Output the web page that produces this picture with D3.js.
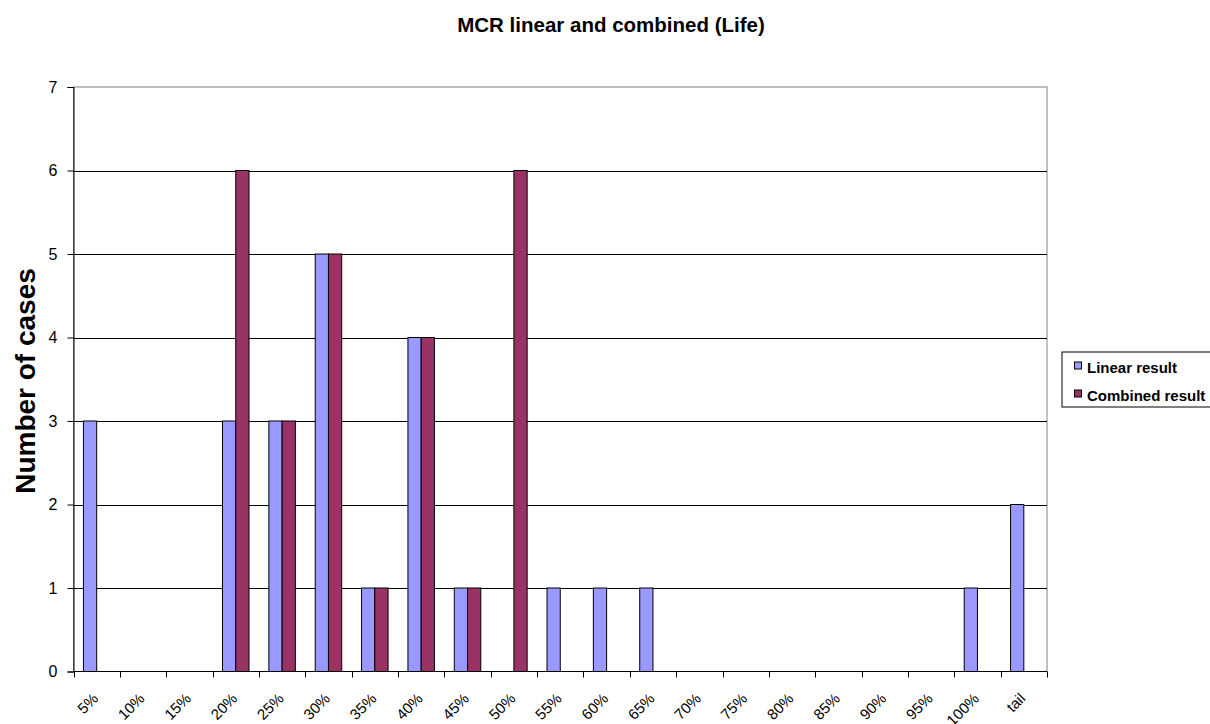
<!DOCTYPE html>
<html><head><meta charset="utf-8">
<script src="https://cdn.jsdelivr.net/npm/d3@7"></script>
<style>body{margin:0;background:#fff;} svg{display:block;font-family:"Liberation Sans",Arial,sans-serif;}</style>
</head><body>
<script>
const categories = ["5%","10%","15%","20%","25%","30%","35%","40%","45%","50%","55%","60%","65%","70%","75%","80%","85%","90%","95%","100%","tail"];
const linearResult   = [3,0,0,3,3,5,1,4,1,0,1,1,1,0,0,0,0,0,0,1,2];
const combinedResult = [0,0,0,6,3,5,1,4,1,6,0,0,0,0,0,0,0,0,0,0,0];
const seriesNames = ["Linear result","Combined result"];
const seriesColors = ["#9999FF","#993366"];
const yTicks = [0,1,2,3,4,5,6,7];

const W=1210,H=724;
const m={left:73.5,right:1047,top:87,bottom:671.5};
const svg=d3.select("body").append("svg").attr("width",W).attr("height",H);

const x=d3.scaleBand().domain(categories).range([m.left,m.right]).paddingInner(0).paddingOuter(0);
const y=d3.scaleLinear().domain([0,7]).range([m.bottom,m.top]);
const bw=x.bandwidth()/3.5;
const gap=bw*0.75;

// plot border
svg.append("rect").attr("x",m.left).attr("y",m.top).attr("width",m.right-m.left).attr("height",m.bottom-m.top)
  .attr("fill","none").attr("stroke","#808080").attr("stroke-width",1);

// gridlines
svg.append("g").selectAll("line").data(yTicks.filter(d=>d>0&&d<7)).join("line")
  .attr("x1",m.left).attr("x2",m.right).attr("y1",d=>Math.round(y(d))+0.5).attr("y2",d=>Math.round(y(d))+0.5)
  .attr("stroke","#000").attr("stroke-width",1);

// bars
const series=[linearResult,combinedResult];
series.forEach((vals,si)=>{
  svg.append("g").selectAll("rect").data(vals.map((v,i)=>({v,c:categories[i]}))).join("rect")
    .attr("x",d=>x(d.c)+gap+si*bw)
    .attr("y",d=>y(d.v))
    .attr("width",bw)
    .attr("height",d=>y(0)-y(d.v))
    .attr("fill",seriesColors[si])
    .attr("stroke","#000").attr("stroke-width",1);
});

// y axis
const ya=svg.append("g").attr("transform",`translate(${m.left},0)`)
  .call(d3.axisLeft(y).tickValues(yTicks).tickSize(6).tickPadding(10).tickFormat(d3.format("d")));
ya.select(".domain").attr("stroke","#000");
ya.selectAll(".tick line").attr("stroke","#000");
ya.selectAll("text").attr("font-size","16px").attr("fill","#000").attr("font-family","Liberation Sans, Arial, sans-serif");

// x axis
const xa=svg.append("g").attr("transform",`translate(0,${m.bottom})`);
xa.append("line").attr("x1",m.left).attr("x2",m.right).attr("y1",0).attr("y2",0).attr("stroke","#000");
const bounds=categories.map(c=>x(c)).concat([m.right]);
xa.selectAll("line.t").data(bounds).join("line").attr("class","t")
  .attr("x1",d=>Math.round(d)+0.5).attr("x2",d=>Math.round(d)+0.5).attr("y1",0).attr("y2",6).attr("stroke","#000");
xa.selectAll("text").data(categories).join("text")
  .attr("transform",c=>`translate(${x(c)+x.bandwidth()/2+2.5},${28}) rotate(-45)`)
  .attr("text-anchor","end").attr("font-size","15px").attr("fill","#000").text(c=>c);

// title
svg.append("text").attr("x",611).attr("y",32).attr("text-anchor","middle")
  .attr("font-size","20.5px").attr("font-weight","bold").text("MCR linear and combined (Life)");

// y label
svg.append("text").attr("transform",`translate(35,381) rotate(-90)`).attr("text-anchor","middle")
  .attr("font-size","28px").attr("font-weight","bold").text("Number of cases");

// legend
const lg=svg.append("g");
lg.append("rect").attr("x",1062).attr("y",352).attr("width",160).attr("height",55).attr("fill","#fff").attr("stroke","#000");
seriesNames.forEach((n,i)=>{
  lg.append("rect").attr("x",1074.5).attr("y",362+i*28).attr("width",7).attr("height",7).attr("fill",seriesColors[i]).attr("stroke","#000");
  lg.append("text").attr("x",1087).attr("y",373+i*27.5).attr("font-size","15px").attr("font-weight","bold").text(n);
});
</script>
</body></html>
